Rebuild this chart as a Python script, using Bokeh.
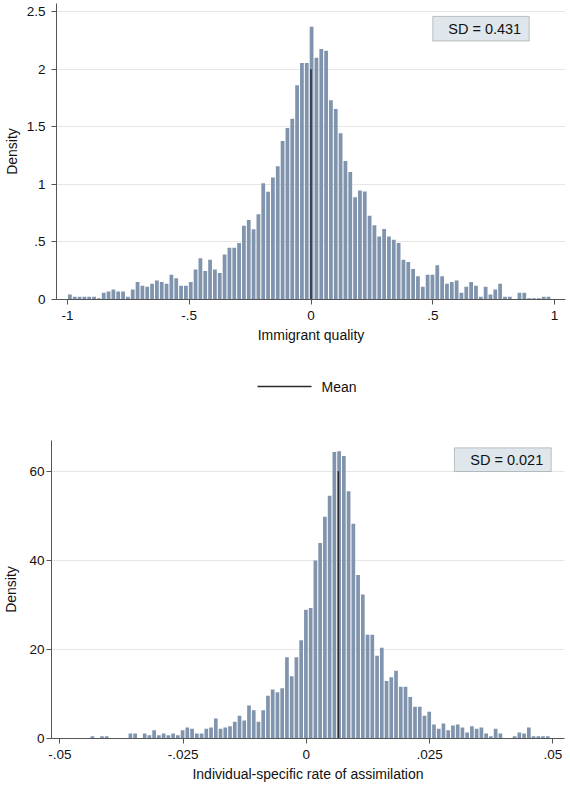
import numpy as np
from bokeh.plotting import figure
from bokeh.layouts import column
from bokeh.models import (FixedTicker, Label, BoxAnnotation, Range1d, ColumnDataSource)
from bokeh.core.properties import value
from bokeh.embed import file_html
from bokeh.resources import INLINE

FONT = "Liberation Sans"
BAR_COLOR = "#8094ae"
AXIS_COLOR = "#555555"

# ---- Immigrant quality: density histogram, 100 equal bins starting at -1 ----
quality_bin_start = -1.0
quality_bin_width = 0.01985
quality_density = [
    0.043, 0.023, 0.023, 0.023, 0.023, 0.023, 0.010, 0.058, 0.070, 0.087,
    0.070, 0.070, 0.023, 0.087, 0.153, 0.120, 0.110, 0.136, 0.165, 0.153,
    0.136, 0.214, 0.185, 0.120, 0.120, 0.153, 0.260, 0.358, 0.248, 0.346,
    0.260, 0.230, 0.390, 0.450, 0.450, 0.490, 0.640, 0.690, 0.610, 0.740,
    1.010, 0.935, 1.060, 1.157, 1.377, 1.490, 1.570, 1.860, 2.055, 2.055,
    2.370, 2.100, 2.176, 2.160, 1.730, 1.654, 1.443, 1.203, 1.108, 0.889,
    0.947, 0.938, 0.727, 0.644, 0.548, 0.612, 0.548, 0.519, 0.490, 0.346,
    0.326, 0.266, 0.202, 0.110, 0.214, 0.214, 0.297, 0.202, 0.136, 0.153,
    0.165, 0.058, 0.110, 0.153, 0.120, 0.023, 0.110, 0.043, 0.087, 0.136,
    0.023, 0.023, 0.000, 0.058, 0.058, 0.010, 0.010, 0.010, 0.023, 0.023,
]
quality_mean = 0.0
quality_mean_line_top = 2.0
quality_sd_label = "SD = 0.431"
quality_xticks = [-1, -0.5, 0, 0.5, 1]
quality_xtick_labels = ["-1", "-.5", "0", ".5", "1"]
quality_yticks = [0, 0.5, 1, 1.5, 2, 2.5]
quality_ytick_labels = ["0", ".5", "1", "1.5", "2", "2.5"]

# ---- Individual-specific rate of assimilation: density histogram ----
rate_bin_start = -0.04385
rate_bin_width = 0.000962
rate_density = [
    0.5, 0.0, 0.5, 0.5, 0.0, 0.0, 0.0, 0.0, 1.1, 1.1,
    0.0, 1.1, 0.75, 1.87, 0.75, 1.1, 0.75, 1.1, 0.75, 1.87,
    2.47, 2.17, 1.1, 1.1, 2.17, 2.47, 4.48, 2.17, 2.47, 2.77,
    3.74, 5.08, 4.04, 7.4, 6.35, 3.74, 6.35, 9.57, 10.99, 10.39,
    11.29, 18.24, 13.98, 18.24, 22.05, 28.92, 29.3, 39.98, 43.9, 49.8,
    54.5, 64.3, 64.5, 63.4, 55.5, 48.2, 36.7, 32.3, 23.3, 23.3,
    18.6, 20.4, 12.9, 13.75, 15.2, 11.6, 11.6, 9.34, 7.1, 7.1,
    5.08, 5.98, 3.14, 2.17, 3.36, 1.87, 2.9, 3.14, 2.47, 1.35,
    2.77, 2.17, 2.47, 1.1, 0.5, 2.17, 1.1, 0.0, 0.0, 0.5,
    1.35, 1.1, 2.47, 0.5, 0.5, 0.5, 0.5,
]
rate_mean = 0.0065
rate_mean_line_top = 60
rate_sd_label = "SD = 0.021"
rate_xticks = [-0.05, -0.025, 0, 0.025, 0.05]
rate_xtick_labels = ["-.05", "-.025", "0", ".025", ".05"]
rate_yticks = [0, 20, 40, 60]
rate_ytick_labels = ["0", "20", "40", "60"]

legend_label = "Mean"


def style_axes(p, xticks, xlabels, yticks, ylabels, xtitle, ylab_standoff, ytitle_standoff):
    p.outline_line_color = None
    p.background_fill_color = "white"
    p.border_fill_color = "white"
    p.xgrid.grid_line_color = None
    p.ygrid.grid_line_color = "#e6e6e6"
    p.ygrid.grid_line_width = 1
    p.ygrid.ticker = FixedTicker(ticks=[t for t in yticks if t != 0])

    p.xaxis.ticker = FixedTicker(ticks=xticks)
    p.xaxis.major_label_overrides = {t: l for t, l in zip(xticks, xlabels)}
    p.yaxis.ticker = FixedTicker(ticks=yticks)
    p.yaxis.major_label_overrides = {t: l for t, l in zip(yticks, ylabels)}
    p.yaxis.major_label_orientation = "horizontal"

    for ax in (p.xaxis[0], p.yaxis[0]):
        ax.axis_line_color = AXIS_COLOR
        ax.axis_line_width = 1
        ax.major_tick_line_color = AXIS_COLOR
        ax.major_tick_out = 5
        ax.major_tick_in = 0
        ax.minor_tick_out = 0
        ax.minor_tick_line_color = None
        ax.major_label_text_font = FONT
        ax.major_label_text_font_size = "13.5px"
        ax.major_label_text_color = "#111111"
        ax.axis_label_text_font = FONT
        ax.axis_label_text_font_size = "14px"
        ax.axis_label_text_font_style = "normal"
        ax.axis_label_text_color = "#111111"
    p.xaxis.major_label_standoff = 6
    p.xaxis.axis_label = xtitle
    p.xaxis.axis_label_standoff = 4
    p.yaxis.major_label_standoff = ylab_standoff
    p.yaxis.axis_label = "Density"
    p.yaxis.axis_label_standoff = ytitle_standoff


def draw_hist(p, start, width, density):
    dens = np.asarray(density, dtype=float)
    centers = start + width * (np.arange(len(dens)) + 0.5)
    src = ColumnDataSource(dict(x=centers, top=dens))
    p.vbar(x="x", top="top", bottom=0, width=width * 0.78, source=src,
           fill_color=BAR_COLOR, line_color=None)


def sd_box(p, left, right, bottom, top, text, text_x):
    p.add_layout(BoxAnnotation(left=left, right=right, bottom=bottom, top=top,
                               fill_color="#dfe7ec", fill_alpha=1.0,
                               line_color="#444444", line_width=1, level="overlay"))
    p.add_layout(Label(x=text_x, y=(bottom + top) / 2, text=text,
                       text_align="right", text_baseline="middle",
                       text_font=FONT, text_font_size="14.5px",
                       text_color="#111111", level="overlay"))


# ---- top panel ----
p1 = figure(width=570, height=345, output_backend="svg", toolbar_location=None,
            x_range=Range1d(-1.045, 1.045), y_range=Range1d(0, 2.571),
            min_border_left=55, min_border_right=5, min_border_top=3,
            min_border_bottom=45)
draw_hist(p1, quality_bin_start, quality_bin_width, quality_density)
p1.segment(x0=[quality_mean], y0=[0], x1=[quality_mean],
           y1=[quality_mean_line_top], line_color="#2a2a2a", line_width=1.5)
style_axes(p1, quality_xticks, quality_xtick_labels, quality_yticks,
           quality_ytick_labels, "Immigrant quality", 6, 4)
sd_box(p1, 0.5, 0.896, 2.245, 2.459, quality_sd_label, 0.863)

# ---- shared legend strip (key for the mean line) ----
leg = figure(width=570, height=75, output_backend="svg", toolbar_location=None,
             x_range=Range1d(0, 570), y_range=Range1d(0, 75),
             x_axis_type=None, y_axis_type=None,
             min_border_left=0, min_border_right=0, min_border_top=0,
             min_border_bottom=0)
leg.outline_line_color = None
leg.xgrid.visible = False
leg.ygrid.visible = False
leg.segment(x0=[257], y0=[34], x1=[311], y1=[34], line_color="#2a2a2a", line_width=1.5)
leg.text(x=[321], y=[34], text=[legend_label], text_font=value(FONT),
         text_font_size="14px", text_baseline="middle", text_align="left",
         text_color="#111111")

# ---- bottom panel ----
p2 = figure(width=570, height=371, output_backend="svg", toolbar_location=None,
            x_range=Range1d(-0.05168, 0.05237), y_range=Range1d(0, 66.9),
            min_border_left=51, min_border_right=6, min_border_top=20,
            min_border_bottom=53)
draw_hist(p2, rate_bin_start, rate_bin_width, rate_density)
p2.segment(x0=[rate_mean], y0=[0], x1=[rate_mean], y1=[rate_mean_line_top],
           line_color="#2a2a2a", line_width=1.5)
style_axes(p2, rate_xticks, rate_xtick_labels, rate_yticks, rate_ytick_labels,
           "Individual-specific rate of assimilation", 2, 7)
sd_box(p2, 0.03004, 0.04968, 59.93, 65.25, rate_sd_label, 0.04806)

# each panel sits in its own box so the frames keep their own left edges
layout = column(column(p1), column(leg), column(p2), spacing=0)
open("out.html", "w").write(file_html(layout, INLINE))
